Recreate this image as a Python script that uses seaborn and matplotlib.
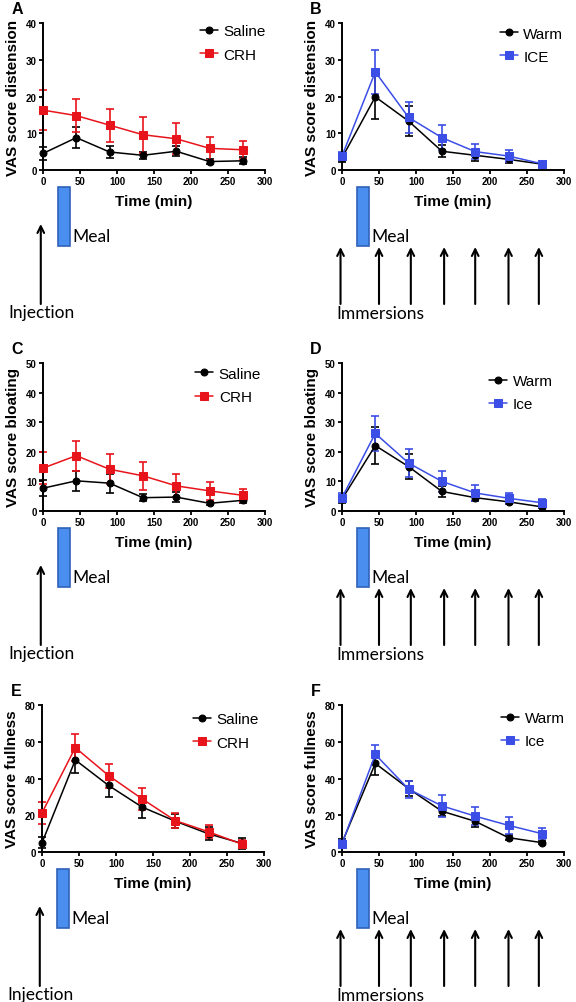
import pandas as pd
import seaborn as sns
import matplotlib.pyplot as plt
import matplotlib.transforms as mtransforms
from matplotlib.patches import Rectangle

TIME = [0, 45, 90, 135, 180, 225, 270]

# A - distension, saline vs CRH
A_SALINE = [4.5, 8.8, 4.9, 4.0, 5.1, 2.3, 2.5]
A_SALINE_SEM = [1.7, 2.8, 1.5, 1.0, 1.4, 0.8, 1.0]
A_CRH = [16.3, 14.8, 12.2, 9.6, 8.5, 5.9, 5.5]
A_CRH_SEM = [5.5, 4.5, 4.5, 4.9, 4.2, 3.2, 2.4]

# B - distension, warm vs ice
B_WARM = [3.3, 19.9, 13.3, 5.1, 4.0, 2.9, 1.6]
B_WARM_SEM = [1.0, 6.0, 4.0, 1.6, 1.5, 1.0, 0.5]
B_ICE = [3.8, 26.7, 14.3, 8.8, 5.0, 3.8, 1.7]
B_ICE_SEM = [1.2, 5.9, 4.2, 3.4, 2.0, 1.7, 0.6]

# C - bloating, saline vs CRH
C_SALINE = [7.7, 10.2, 9.4, 4.5, 4.7, 2.6, 3.6]
C_SALINE_SEM = [2.7, 3.4, 3.2, 1.2, 1.7, 0.6, 1.0]
C_CRH = [14.5, 18.7, 14.1, 11.9, 8.5, 6.8, 5.3]
C_CRH_SEM = [5.3, 5.1, 5.0, 4.7, 3.9, 3.0, 2.3]

# D - bloating, warm vs ice
D_WARM = [4.0, 22.1, 15.0, 6.6, 4.5, 3.1, 1.4]
D_WARM_SEM = [1.2, 6.3, 4.3, 1.8, 1.2, 0.9, 0.5]
D_ICE = [4.5, 26.2, 16.2, 10.0, 6.1, 4.3, 2.8]
D_ICE_SEM = [1.5, 6.0, 4.7, 3.6, 2.6, 1.9, 1.2]

# E - fullness, saline vs CRH
E_SALINE = [5.0, 50.1, 36.2, 24.5, 16.8, 9.9, 4.7]
E_SALINE_SEM = [3.0, 7.0, 6.2, 5.8, 4.0, 3.5, 3.0]
E_CRH = [21.3, 56.8, 41.6, 29.0, 17.1, 11.0, 4.3]
E_CRH_SEM = [6.0, 7.4, 6.5, 6.0, 4.3, 3.6, 2.0]

# F - fullness, warm vs ice
F_WARM = [5.0, 48.2, 34.5, 22.2, 16.7, 7.8, 5.1]
F_WARM_SEM = [2.0, 6.4, 4.0, 2.5, 3.0, 1.5, 1.0]
F_ICE = [4.5, 53.1, 34.2, 25.1, 19.5, 14.5, 10.0]
F_ICE_SEM = [2.0, 5.1, 4.7, 5.8, 5.0, 4.6, 3.1]

BLACK = "black"
RED = "#e8141b"
BLUE = "#3b4ee6"

W, H = 576, 1003

sns.set_style("ticks", {"axes.edgecolor": "black", "xtick.color": "black",
                        "ytick.color": "black", "text.color": "black",
                        "axes.labelcolor": "black"})
plt.rcParams["font.family"] = ["Liberation Sans", "DejaVu Sans"]

fig = plt.figure(figsize=(W / 100, H / 100), dpi=100)

# letter, ylabel, ymax, ystep, left, top, height, series, legend anchor, kind
panels = [
    ("A", "VAS score distension", 40, 10, 43, 24, 147,
     [("Saline", A_SALINE, A_SALINE_SEM, BLACK, "o"), ("CRH", A_CRH, A_CRH_SEM, RED, "s")],
     (0.705, 0.99), "injection"),
    ("B", "VAS score distension", 40, 10, 342, 24, 147,
     [("Warm", B_WARM, B_WARM_SEM, BLACK, "o"), ("ICE", B_ICE, B_ICE_SEM, BLUE, "s")],
     (0.71, 0.975), "immersion"),
    ("C", "VAS score bloating", 50, 10, 43, 364, 148,
     [("Saline", C_SALINE, C_SALINE_SEM, BLACK, "o"), ("CRH", C_CRH, C_CRH_SEM, RED, "s")],
     (0.685, 0.975), "injection"),
    ("D", "VAS score bloating", 50, 10, 342, 364, 148,
     [("Warm", D_WARM, D_WARM_SEM, BLACK, "o"), ("Ice", D_ICE, D_ICE_SEM, BLUE, "s")],
     (0.662, 0.925), "immersion"),
    ("E", "VAS score fullness", 80, 20, 42, 706, 147,
     [("Saline", E_SALINE, E_SALINE_SEM, BLACK, "o"), ("CRH", E_CRH, E_CRH_SEM, RED, "s")],
     (0.68, 0.95), "injection"),
    ("F", "VAS score fullness", 80, 20, 342, 706, 147,
     [("Warm", F_WARM, F_WARM_SEM, BLACK, "o"), ("Ice", F_ICE, F_ICE_SEM, BLUE, "s")],
     (0.716, 0.96), "immersion"),
]

AX_W = 222
IMMERSION_X = [-2, 50, 93, 138, 180, 225, 266]
ANNOT_FONT = ["Lato", "DejaVu Sans"]

for letter, ylabel, ymax, ystep, left, top, h, series, leg_xy, kind in panels:
    ax = fig.add_axes([left / W, 1 - (top + h) / H, AX_W / W, h / H])

    for name, vals, sem, color, marker in series:
        df = pd.DataFrame({"time": TIME, "score": vals})
        ax.errorbar(TIME, vals, yerr=sem, fmt="none", ecolor=color,
                    elinewidth=1.2, capsize=2.6, capthick=1.2, zorder=2, clip_on=False)
        sns.lineplot(data=df, x="time", y="score", ax=ax, color=color, marker=marker,
                     markersize=5.0 if marker == "o" else 5.4, markeredgecolor=color,
                     lw=1.1, label=name, errorbar=None, zorder=3, clip_on=False)

    ax.set_xlim(0, 300)
    ax.set_ylim(0, ymax)
    ax.set_xticks(range(0, 301, 50))
    ax.set_yticks(range(0, ymax + 1, ystep))
    sns.despine(ax=ax)
    for sp in ("left", "bottom"):
        ax.spines[sp].set_linewidth(1.4)
    ax.tick_params(width=1.3, length=3, labelsize=7, pad=1.5)
    for lab in ax.get_xticklabels() + ax.get_yticklabels():
        lab.set_fontweight("bold")

    ax.set_xlabel("Time (min)", fontsize=11, fontweight="bold")
    ax.xaxis.set_label_coords(0.5, -24 / h)
    ax.set_ylabel(ylabel, fontsize=11, fontweight="bold")
    ax.yaxis.set_label_coords(-23 / AX_W, 0.5)

    handles, labels = ax.get_legend_handles_labels()
    ax.legend(handles, labels, loc="upper left", bbox_to_anchor=leg_xy, frameon=False,
              fontsize=11, handlelength=1.2, handletextpad=0.35, labelspacing=0.6,
              borderpad=0, borderaxespad=0)

    fig.text((left - 26) / W, 1 - (top - 14) / H, letter, fontsize=11.5,
             fontweight="bold", ha="center", va="center")

    # annotation strip under each panel: meal bar, arrows, labels
    trans = mtransforms.blended_transform_factory(ax.transData, ax.transAxes)
    ax.add_patch(Rectangle((20, -76 / h), 17, 59 / h, transform=trans, clip_on=False,
                           facecolor="#4a8ef0", edgecolor="#2f62b8", lw=1.2))
    ax.text(40, -66 / h, "Meal", transform=trans, ha="left", va="center",
            fontsize=12.5, family=ANNOT_FONT)
    if kind == "injection":
        ax.annotate("", xy=(-3, -54 / h), xytext=(-3, -134 / h), xycoords=trans,
                    textcoords=trans, annotation_clip=False,
                    arrowprops=dict(arrowstyle="->", lw=1.5, color="black",
                                    shrinkA=0, shrinkB=0, mutation_scale=12))
        ax.text(-47, -142 / h, "Injection", transform=trans, ha="left", va="center",
                fontsize=12.5, family=ANNOT_FONT)
    else:
        for xa in IMMERSION_X:
            ax.annotate("", xy=(xa, -77 / h), xytext=(xa, -134 / h), xycoords=trans,
                        textcoords=trans, annotation_clip=False,
                        arrowprops=dict(arrowstyle="->", lw=1.5, color="black",
                                        shrinkA=0, shrinkB=0, mutation_scale=12))
        ax.text(-8, -143 / h, "Immersions", transform=trans, ha="left", va="center",
                fontsize=12.5, family=ANNOT_FONT)

fig.savefig("out.png", dpi=100)
